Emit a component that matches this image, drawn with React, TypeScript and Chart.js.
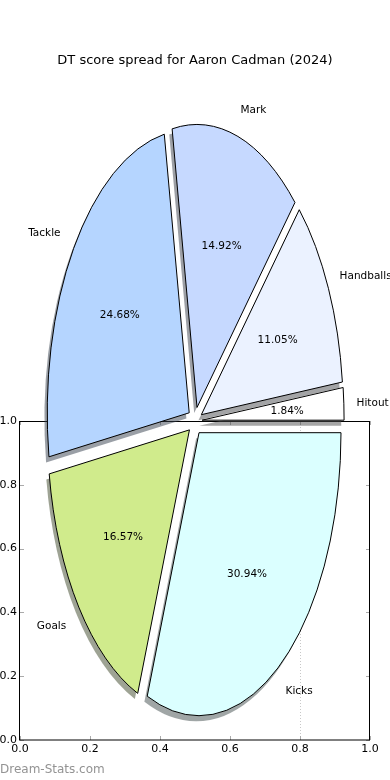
import React, { useEffect, useRef } from "react";
import { Chart, registerables } from "chart.js";

Chart.register(...registerables);

// ---- data (matplotlib order: counter-clockwise from 3 o'clock) ----
const categories = ["Hitout", "Handballs", "Mark", "Tackle", "Goals", "Kicks"];
const scores = [10, 60, 81, 134, 90, 168];
const sliceColors = ["#ffffff", "#ebf2ff", "#c6d9ff", "#b5d5ff", "#d0eb8c", "#dbffff"];
const explode = [0.05, 0.05, 0.05, 0.05, 0.05, 0.05];
const xTicks = [0, 0.2, 0.4, 0.6, 0.8, 1.0];
const yTicks = [0, 0.2, 0.4, 0.6, 0.8, 1.0];
const markerX = 0.8;
const titleText = "DT score spread for Aaron Cadman (2024)";
const watermark = "Dream-Stats.com";

// ---- geometry / style ----
const W = 390;
const H = 780;
const RX = 142; // horizontal radius in px
const RY = 283; // vertical radius in px
const K = RY / RX;
const pieCenter = [0.5, 1.0]; // in the axes' value space
const FONT = "DejaVu Sans, Verdana, sans-serif";

// Chart.js draws clockwise, so feed it the reversed order
const cjsLabels = [...categories].reverse();
const cjsData = [...scores].reverse();
const cjsColors = [...sliceColors].reverse();
const cjsExplode = [...explode].reverse();

function hexToRgb(h: string) {
  const n = parseInt(h.slice(1), 16);
  return [(n >> 16) & 255, (n >> 8) & 255, n & 255];
}

function center(chart: any) {
  const cx = chart.scales.x.getPixelForValue(pieCenter[0]);
  const cy = chart.scales.y.getPixelForValue(pieCenter[1]);
  return { cx, cy };
}

const ellipsePie = {
  id: "ellipsePie",
  afterDatasetsUpdate(chart: any) {
    const meta = chart.getDatasetMeta(0);
    const { cx, cy } = center(chart);
    meta.data.forEach((el: any, i: number) => {
      const mid = (el.startAngle + el.endAngle) / 2;
      const e = cjsExplode[i] * el.outerRadius;
      el.x = cx + Math.cos(mid) * e;
      el.y = cy + Math.sin(mid) * e;
    });
  },
  beforeDatasetsDraw(chart: any) {
    const ctx = chart.ctx;
    const xs = chart.scales.x;
    const ys = chart.scales.y;
    const { left, right, top, bottom } = chart.chartArea;
    // marker dotted line
    ctx.save();
    ctx.strokeStyle = "#c8c8c8";
    ctx.lineWidth = 1;
    ctx.setLineDash([1, 2]);
    const mx = Math.round(xs.getPixelForValue(markerX)) + 0.5;
    ctx.beginPath();
    ctx.moveTo(mx, top);
    ctx.lineTo(mx, bottom);
    ctx.stroke();
    ctx.setLineDash([]);
    // inward tick marks on all sides
    ctx.strokeStyle = "#aaaaaa";
    ctx.beginPath();
    xTicks.forEach((v) => {
      const px = Math.round(xs.getPixelForValue(v)) + 0.5;
      ctx.moveTo(px, bottom);
      ctx.lineTo(px, bottom - 4);
      ctx.moveTo(px, top);
      ctx.lineTo(px, top + 4);
    });
    yTicks.forEach((v) => {
      const py = Math.round(ys.getPixelForValue(v)) + 0.5;
      ctx.moveTo(left, py);
      ctx.lineTo(left + 4, py);
      ctx.moveTo(right, py);
      ctx.lineTo(right - 4, py);
    });
    ctx.stroke();
    // frame
    ctx.strokeStyle = "#000";
    ctx.strokeRect(Math.round(left) - 0.5, Math.round(top) + 0.5, Math.round(right - left) + 0, Math.round(bottom - top) - 0.5);
    ctx.restore();

    // elliptical transform + shadows
    const meta = chart.getDatasetMeta(0);
    const { cy } = center(chart);
    ctx.save();
    ctx.translate(0, cy);
    ctx.scale(1, K);
    ctx.translate(0, -cy);
    meta.data.forEach((el: any, i: number) => {
      const [r, g, b] = hexToRgb(cjsColors[i]);
      const off = 0.02 * el.outerRadius;
      ctx.save();
      ctx.translate(-off, off);
      ctx.fillStyle = `rgba(${Math.round(r * 0.3)},${Math.round(g * 0.3)},${Math.round(b * 0.3)},0.5)`;
      ctx.beginPath();
      ctx.moveTo(el.x, el.y);
      ctx.arc(el.x, el.y, el.outerRadius, el.startAngle, el.endAngle);
      ctx.closePath();
      ctx.fill();
      ctx.restore();
    });
  },
  afterDatasetsDraw(chart: any) {
    const ctx = chart.ctx;
    ctx.restore();
    const meta = chart.getDatasetMeta(0);
    const { cx, cy } = center(chart);
    const total = cjsData.reduce((a, b) => a + b, 0);
    // outlines with uniform line width
    meta.data.forEach((el: any) => {
      ctx.save();
      ctx.translate(0, cy);
      ctx.scale(1, K);
      ctx.translate(0, -cy);
      ctx.beginPath();
      ctx.moveTo(el.x, el.y);
      ctx.arc(el.x, el.y, el.outerRadius, el.startAngle, el.endAngle);
      ctx.closePath();
      ctx.restore();
      ctx.save();
      ctx.strokeStyle = "#000";
      ctx.lineWidth = 1;
      ctx.lineJoin = "miter";
      ctx.stroke();
      ctx.restore();
    });
    // labels
    ctx.save();
    ctx.fillStyle = "#000";
    ctx.font = `10.5px ${FONT}`;
    ctx.textBaseline = "middle";
    meta.data.forEach((el: any, i: number) => {
      const mid = (el.startAngle + el.endAngle) / 2;
      const c = Math.cos(mid);
      const s = Math.sin(mid);
      const lx = el.x + c * 1.1 * el.outerRadius;
      const ly = cy + (el.y + s * 1.1 * el.outerRadius - cy) * K;
      ctx.textAlign = lx > cx ? "left" : "right";
      ctx.fillText(cjsLabels[i], lx - 1.5, ly + 1);
      const px = el.x + c * 0.6 * el.outerRadius;
      const py = cy + (el.y + s * 0.6 * el.outerRadius - cy) * K;
      ctx.textAlign = "center";
      ctx.fillText(((cjsData[i] / total) * 100).toFixed(2) + "%", px, py + 1);
    });
    // title
    ctx.font = `13px ${FONT}`;
    ctx.textAlign = "center";
    ctx.fillText(titleText, cx, 61);
    // watermark
    ctx.font = `12px ${FONT}`;
    ctx.fillStyle = "#939393";
    ctx.textAlign = "left";
    ctx.fillText(watermark, 0, 770);
    ctx.restore();
  },
};

export default function App() {
  const ref = useRef<HTMLCanvasElement | null>(null);
  useEffect(() => {
    if (!ref.current) return;
    const chart = new Chart(ref.current, {
      type: "pie",
      data: {
        labels: cjsLabels,
        datasets: [
          {
            data: cjsData,
            backgroundColor: cjsColors,
            borderWidth: 0,
            clip: false,
          } as any,
        ],
      },
      options: {
        animation: false,
        responsive: false,
        devicePixelRatio: 1,
        rotation: 90,
        radius: RX,
        layout: { padding: { top: 421, right: 20, bottom: 0, left: 0 } },
        plugins: {
          legend: { display: false },
          tooltip: { enabled: false },
          title: { display: false },
        },
        scales: {
          x: {
            type: "linear",
            position: "bottom",
            min: 0,
            max: 1,
            afterBuildTicks: (s: any) => {
              s.ticks = xTicks.map((v) => ({ value: v }));
            },
            afterFit: (s: any) => {
              s.height = 40;
            },
            grid: { display: false, drawTicks: false },
            border: { display: false },
            ticks: {
              color: "#000",
              font: { family: FONT, size: 11 },
              padding: 3,
              maxRotation: 0,
              autoSkip: false,
              callback: (v: any) => Number(v).toFixed(1),
            },
          },
          y: {
            type: "linear",
            position: "left",
            min: 0,
            max: 1,
            afterBuildTicks: (s: any) => {
              s.ticks = yTicks.map((v) => ({ value: v }));
            },
            afterFit: (s: any) => {
              s.width = 20;
            },
            grid: { display: false, drawTicks: false },
            border: { display: false },
            ticks: {
              color: "#000",
              font: { family: FONT, size: 11 },
              padding: 3,
              autoSkip: false,
              callback: (v: any) => Number(v).toFixed(1),
            },
          },
        },
      } as any,
      plugins: [ellipsePie],
    });
    return () => chart.destroy();
  }, []);
  return (
    <div style={{ position: "fixed", left: 0, top: 0, width: W, height: H, background: "#fff" }}>
      <canvas ref={ref} width={W} height={H} style={{ display: "block", width: W, height: H }} />
    </div>
  );
}
